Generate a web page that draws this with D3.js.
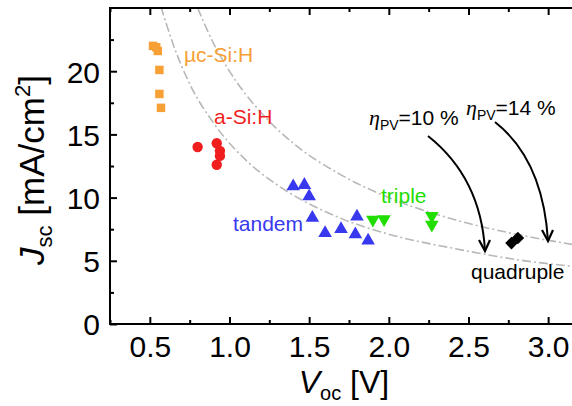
<!DOCTYPE html>
<html><head><meta charset="utf-8">
<script src="https://cdn.jsdelivr.net/npm/d3@7"></script>
<style>
html,body{margin:0;padding:0;background:#fff;}
svg{display:block;font-family:"Liberation Sans",Arial,sans-serif;}
</style></head>
<body>
<svg id="chart" width="572" height="406"></svg>
<script>
// ---- data ----
const ucSiV = [0.52, 0.54, 0.55, 0.56, 0.56, 0.57];
const ucSiJ = [22.0, 21.9, 21.6, 20.1, 18.2, 17.1];
const aSiV = [0.80, 0.92, 0.94, 0.94, 0.92];
const aSiJ = [14.0, 14.3, 13.7, 13.3, 12.6];
const tandemV = [1.40, 1.47, 1.50, 1.52, 1.60, 1.70, 1.80, 1.79, 1.87];
const tandemJ = [10.9, 11.0, 10.1, 8.4, 7.2, 7.5, 8.5, 7.1, 6.6];
const tripleV = [1.90, 1.97, 2.27, 2.27];
const tripleJ = [8.25, 8.3, 8.55, 7.85];
const quadV = [2.77, 2.81];
const quadJ = [6.4, 6.8];
// iso-efficiency guide lines
const eta10V = [0.57, 0.65, 0.75, 0.9, 1.1, 1.3, 1.6, 2.0, 2.4, 2.8, 3.2];
const eta10J = [25.1, 22.0, 19.0, 15.9, 13.0, 11.0, 8.9, 7.1, 6.0, 5.1, 4.5];
const eta14V = [0.8, 0.9, 1.0, 1.2, 1.4, 1.7, 2.0, 2.4, 2.8, 3.2];
const eta14J = [25.0, 22.2, 20.0, 16.7, 14.3, 11.8, 10.0, 8.3, 7.1, 6.2];
const xTicks = [0.5, 1.0, 1.5, 2.0, 2.5, 3.0];
const xMinor = [0.25, 0.75, 1.25, 1.75, 2.25, 2.75];
const yTicks = [0, 5, 10, 15, 20];
const yMinor = [2.5, 7.5, 12.5, 17.5, 22.5];

// ---- layout ----
const svg = d3.select("#chart");
const L = 110, R = 580, T = 8, B = 324;
const x = d3.scaleLinear().domain([0.25, 3.2]).range([L, R]);
const y = d3.scaleLinear().domain([0, 25]).range([B, T]);

const defs = svg.append("defs");
defs.append("clipPath").attr("id","plotclip").append("rect")
  .attr("x", L).attr("y", T).attr("width", R - L).attr("height", B - T);

// guide curves
const line = d3.line().x(d => x(d[0])).y(d => y(d[1])).curve(d3.curveMonotoneX);
const gc = svg.append("g").attr("clip-path","url(#plotclip)");
[[eta10V, eta10J],[eta14V, eta14J]].forEach(([vs, js]) => {
  gc.append("path").datum(vs.map((v,i)=>[v, js[i]]))
    .attr("d", line).attr("fill","none").attr("stroke","#b8b8b8")
    .attr("stroke-width",1.6).attr("stroke-dasharray","9,3,2,3");
});

// axes (frame with inward ticks on all sides)
const fmt = d3.format(".1f");
const axB = svg.append("g").attr("transform",`translate(0,${B})`)
  .call(d3.axisBottom(x).tickValues(xTicks).tickSizeInner(-7).tickSizeOuter(0).tickPadding(12).tickFormat(fmt));
const axBm = svg.append("g").attr("transform",`translate(0,${B})`)
  .call(d3.axisBottom(x).tickValues(xMinor).tickSizeInner(-4).tickSizeOuter(0).tickFormat(""));
const axT = svg.append("g").attr("transform",`translate(0,${T})`)
  .call(d3.axisTop(x).tickValues(xTicks).tickSizeInner(-7).tickSizeOuter(0).tickFormat(""));
const axTm = svg.append("g").attr("transform",`translate(0,${T})`)
  .call(d3.axisTop(x).tickValues(xMinor).tickSizeInner(-4).tickSizeOuter(0).tickFormat(""));
const axL = svg.append("g").attr("transform",`translate(${L},0)`)
  .call(d3.axisLeft(y).tickValues(yTicks).tickSizeInner(-7).tickSizeOuter(0).tickPadding(10).tickFormat(d3.format("d")));
const axLm = svg.append("g").attr("transform",`translate(${L},0)`)
  .call(d3.axisLeft(y).tickValues(yMinor).tickSizeInner(-4).tickSizeOuter(0).tickFormat(""));
const axR = svg.append("g").attr("transform",`translate(${R},0)`)
  .call(d3.axisRight(y).tickValues(yTicks).tickSizeInner(-7).tickSizeOuter(0).tickFormat(""));
const axRm = svg.append("g").attr("transform",`translate(${R},0)`)
  .call(d3.axisRight(y).tickValues(yMinor).tickSizeInner(-4).tickSizeOuter(0).tickFormat(""));
[axB,axBm,axT,axTm,axL,axLm,axR,axRm].forEach(g=>{
  g.select(".domain").remove();
  g.selectAll("line").attr("stroke","#000").attr("stroke-width",2);
  g.selectAll("text").attr("fill","#000").attr("font-size",30)
    .attr("font-family","'Liberation Sans',Arial,sans-serif");
});
axL.selectAll("text").attr("dy","0.36em");
svg.append("rect").attr("x",L).attr("y",T).attr("width",R-L).attr("height",B-T)
  .attr("fill","none").attr("stroke","#000").attr("stroke-width",2);

// markers
function pts(vs, js, sym, size, color, rot){
  svg.append("g").selectAll("path").data(vs.map((v,i)=>[v, js[i]])).join("path")
    .attr("d", d3.symbol().type(sym).size(size))
    .attr("transform", d => `translate(${x(d[0])},${y(d[1])}) rotate(${rot||0})`)
    .attr("fill", color);
}
pts(ucSiV, ucSiJ, d3.symbolSquare, 72, "#f7a035");
pts(aSiV, aSiJ, d3.symbolCircle, 85, "#f01e1e");
pts(tandemV, tandemJ, d3.symbolTriangle, 80, "#3838ee");
pts(tripleV, tripleJ, d3.symbolTriangle, 80, "#22dd00", 180);
pts(quadV, quadJ, d3.symbolSquare, 80, "#000", 45);

// category labels
const lab = (t, xx, yy, c) => svg.append("text").attr("x",xx).attr("y",yy)
  .attr("font-size",21).attr("fill",c).text(t);
lab("µc-Si:H", 184, 62, "#f7a035");
lab("a-Si:H", 214, 124, "#f01e1e");
lab("tandem", 233, 231, "#3838ee");
lab("triple", 381, 203, "#22dd00");
lab("quadruple", 471, 279, "#000");

// efficiency annotations
function eta(xx, yy, val){
  const t = svg.append("text").attr("x",xx).attr("y",yy).attr("fill","#000");
  t.append("tspan").attr("font-family","'Liberation Serif','Times New Roman',serif")
    .attr("font-style","italic").attr("font-size",22).text("η");
  t.append("tspan").attr("font-size",14).attr("dy",5).text("PV");
  t.append("tspan").attr("font-size",21).attr("dy",-5).text("=" + val + " %");
}
eta(369, 125, "10");
eta(466, 115, "14");

// arrows
const arrows = [
  {p:"M428,136 Q481,178 485,251", tip:[485,251]},
  {p:"M495,122 Q543,160 548,241", tip:[548,241]}
];
arrows.forEach(a=>{
  svg.append("path").attr("d",a.p).attr("fill","none").attr("stroke","#000").attr("stroke-width",2);
  const [tx,ty]=a.tip;
  svg.append("path").attr("d",`M${tx-6},${ty-11} L${tx},${ty} L${tx+5},${ty-11}`)
    .attr("fill","none").attr("stroke","#000").attr("stroke-width",2.2).attr("stroke-linejoin","miter");
});

// axis titles
const xt = svg.append("text").attr("x",344).attr("y",393).attr("text-anchor","middle")
  .attr("font-size",32).attr("fill","#000");
xt.append("tspan").attr("font-style","italic").text("V");
xt.append("tspan").attr("font-size",20).attr("dy",7).text("oc");
xt.append("tspan").attr("dy",-7).text(" [V]");

const yt = svg.append("text").attr("transform","translate(44,170) rotate(-90)")
  .attr("text-anchor","middle").attr("font-size",35).attr("fill","#000");
yt.append("tspan").attr("font-style","italic").text("J");
yt.append("tspan").attr("font-size",22).attr("dy",8).text("sc");
yt.append("tspan").attr("dy",-8).text(" [mA/cm");
yt.append("tspan").attr("font-size",22).attr("dy",-14).text("2");
yt.append("tspan").attr("dy",14).text("]");
</script>
</body></html>
